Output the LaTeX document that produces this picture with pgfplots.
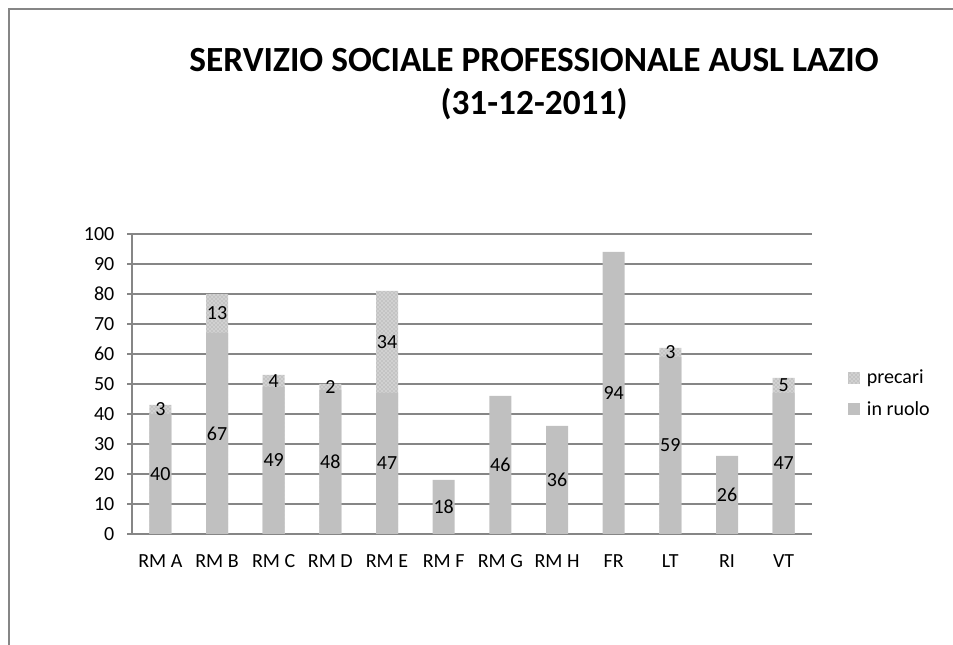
\documentclass[border=0pt]{standalone}
\usepackage{pgfplots}
\pgfplotsset{compat=1.18}
\usepackage{pgfplotstable}
\usepackage{fontspec}
\setmainfont{Carlito}
\usetikzlibrary{patterns}

\definecolor{axgray}{HTML}{868686}
\definecolor{ruolo}{HTML}{C0C0C0}
\definecolor{precbg}{HTML}{C4C4C4}

\pgfplotstableread{
x ruolo precari
0 40 3
1 67 13
2 49 4
3 48 2
4 47 34
5 18 0
6 46 0
7 36 0
8 94 0
9 59 3
10 26 0
11 47 5
}\datatable

\pgfplotstableread{
x ruolo precari
0 40 3
1 67 13
2 49 4
3 48 2
4 47 34
9 59 3
11 47 5
}\precaritable

\begin{document}
\begin{tikzpicture}[x=0.75pt,y=0.75pt]
\useasboundingbox (0,0) rectangle (953,645);
\draw[axgray, line width=1.5pt] (9,0) -- (9,636) -- (953,636);
\node[font=\fontsize{26.5}{30}\selectfont\bfseries] at (534,585) {SERVIZIO SOCIALE PROFESSIONALE AUSL LAZIO};
\node[font=\fontsize{26.5}{30}\selectfont\bfseries] at (534,541) {(31-12-2011)};
\begin{axis}[
  at={(99pt,83.25pt)}, anchor=south west,
  scale only axis, width=510pt, height=225pt,
  xmin=-0.5, xmax=11.5, ymin=0, ymax=100,
  axis lines=left,
  axis line style={-, draw=axgray, line width=1.1pt},
  ytick={0,10,...,100},
  ymajorgrids,
  grid style={axgray, line width=1.1pt},
  xtick={0,...,11},
  xticklabels={RM A,RM B,RM C,RM D,RM E,RM F,RM G,RM H,FR,LT,RI,VT},
  major x tick style={draw=none},
  extra x ticks={-0.5,0.5,...,11.5},
  extra x tick style={xticklabel={}, major tick length=4.5pt, tick style={draw=axgray, line width=1.1pt}},
  tick align=outside,
  y tick style={draw=axgray, line width=1.1pt},
  major tick length=3.75pt,
  /pgf/number format/assume math mode=true,
  tick label style={font=\fontsize{15}{18}\selectfont},
  xticklabel style={yshift=-8pt},
  yticklabel style={xshift=-6pt},
  legend style={at={(1.053,0.468)}, anchor=west, draw=none, fill=none,
    font=\fontsize{15}{18}\selectfont, row sep=8pt, inner sep=0pt},
  legend cell align=left,
  legend image code/.code={\path[#1] (0pt,-4.5pt) rectangle (9pt,4.5pt); \path (12pt,0pt);},
  clip=false,
]
\addplot[ybar, bar shift=0pt, bar width=16.5pt, draw=none, fill=precbg,
  postaction={pattern=crosshatch dots, pattern color=white}]
  table[x=x, y expr=\thisrow{ruolo}+\thisrow{precari}] {\precaritable};
\addlegendentry{precari}
\addplot[ybar, bar shift=0pt, bar width=16.5pt, draw=none, fill=ruolo]
  table[x=x, y=ruolo] {\datatable};
\addlegendentry{in ruolo}
\addplot[draw=none, forget plot, nodes near coords, point meta=explicit symbolic,
  nodes near coords style={anchor=center, font=\fontsize{15}{18}\selectfont, inner sep=0pt}]
  table[x=x, y expr=\thisrow{ruolo}/2, meta=ruolo] {\datatable};
\addplot[draw=none, forget plot, nodes near coords, point meta=explicit symbolic,
  nodes near coords style={anchor=center, font=\fontsize{15}{18}\selectfont, inner sep=0pt}]
  table[x=x, y expr=\thisrow{ruolo}+\thisrow{precari}/2, meta=precari] {\precaritable};
\end{axis}
\end{tikzpicture}
\end{document}
